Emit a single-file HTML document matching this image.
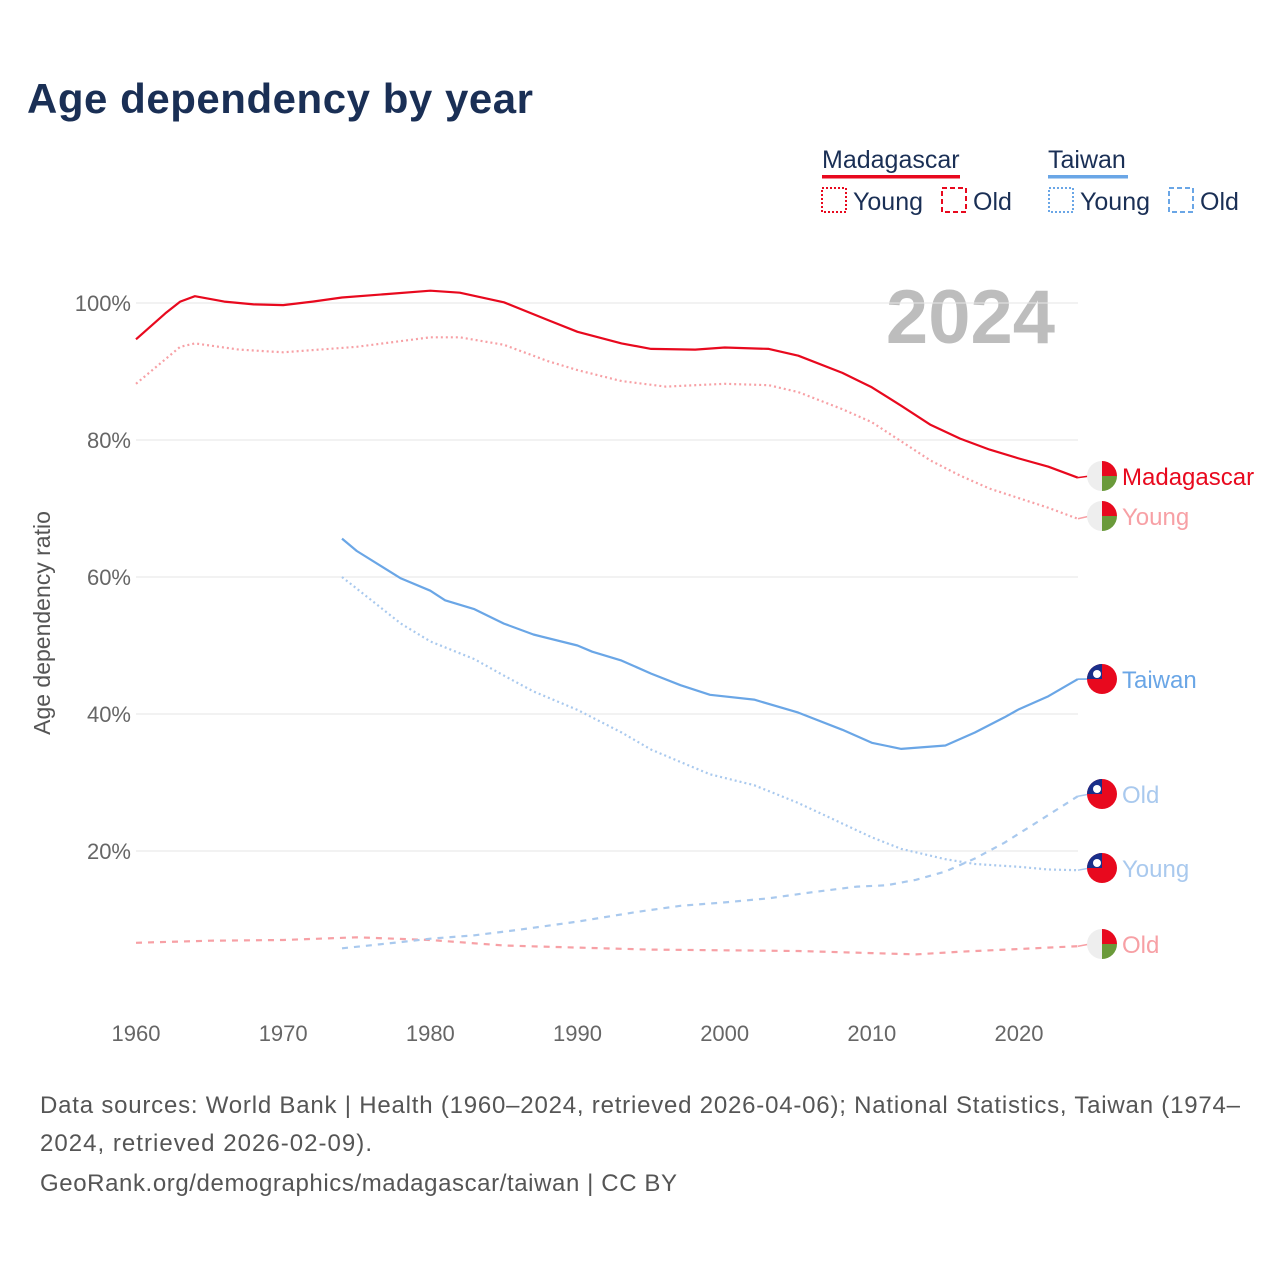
<!DOCTYPE html>
<html><head><meta charset="utf-8"><style>
body{margin:0;background:#fff;font-family:"Liberation Sans",sans-serif}
#wrap{position:relative;width:1280px;height:1280px;overflow:hidden}
</style></head><body>
<div id="wrap">
<svg id="svg" width="1280" height="1280" style="position:absolute;left:0;top:0">
<text x="27" y="113" font-size="42" font-weight="bold" fill="#1a2f55" textLength="506">Age dependency by year</text>
<g font-size="25" fill="#1a2f55">
<text x="822" y="168">Madagascar</text><rect x="822" y="175" width="138" height="3.5" fill="#e8091e"/>
<rect x="822" y="188" width="24" height="24" fill="none" stroke="#e8091e" stroke-width="2" stroke-dasharray="2,2"/><text x="853" y="210">Young</text>
<rect x="942" y="188" width="24" height="24" fill="none" stroke="#e8091e" stroke-width="2" stroke-dasharray="5,3"/><text x="973" y="210">Old</text>
<text x="1048" y="168">Taiwan</text><rect x="1048" y="175" width="80" height="3.5" fill="#6aa6e6"/>
<rect x="1049" y="188" width="24" height="24" fill="none" stroke="#6aa6e6" stroke-width="2" stroke-dasharray="2,2"/><text x="1080" y="210">Young</text>
<rect x="1169" y="188" width="24" height="24" fill="none" stroke="#6aa6e6" stroke-width="2" stroke-dasharray="5,3"/><text x="1200" y="210">Old</text>
</g>
<text x="1055" y="343" font-size="76" font-weight="bold" fill="#bdbdbd" text-anchor="end">2024</text>
<text transform="translate(50,623) rotate(-90)" font-size="23" fill="#555" text-anchor="middle">Age dependency ratio</text>
<g id="grid"></g><g id="lines"></g><g id="ends"></g>
<g font-size="24" fill="#555">
<text x="40" y="1113" textLength="1200">Data sources: World Bank | Health (1960–2024, retrieved 2026-04-06); National Statistics, Taiwan (1974–</text>
<text x="40" y="1151" textLength="332">2024, retrieved 2026-02-09).</text>
<text x="40" y="1191" textLength="637">GeoRank.org/demographics/madagascar/taiwan | CC BY</text>
</g>
</svg>
</div>
<script>
const yTicks=[20,40,60,80,100];
const xTicks=[1960,1970,1980,1990,2000,2010,2020];
const mgTotalYears=[1960,1962,1963,1964,1966,1968,1970,1972,1974,1977,1980,1982,1985,1988,1990,1993,1995,1998,2000,2003,2005,2008,2010,2012,2014,2016,2018,2020,2022,2024];
const mgTotal=[94.7,98.5,100.2,101,100.2,99.8,99.7,100.2,100.8,101.3,101.8,101.5,100.1,97.5,95.8,94.1,93.3,93.2,93.5,93.3,92.3,89.8,87.7,85,82.2,80.2,78.6,77.3,76.1,74.5];
const mgYoungYears=[1960,1963,1964,1967,1970,1975,1980,1982,1985,1988,1990,1993,1996,2000,2003,2005,2008,2010,2012,2014,2016,2018,2020,2022,2024];
const mgYoung=[88.2,93.6,94.1,93.2,92.8,93.6,95,95,93.9,91.5,90.2,88.6,87.8,88.2,88.0,87,84.5,82.6,79.8,77,74.8,72.9,71.5,70.1,68.5];
const mgOldYears=[1960,1965,1970,1975,1980,1985,1990,1995,2000,2005,2010,2013,2016,2020,2024];
const mgOld=[6.6,6.9,7.0,7.4,7.0,6.2,5.9,5.6,5.5,5.4,5.1,4.9,5.3,5.7,6.1];
const twTotalYears=[1974,1975,1978,1980,1981,1983,1985,1987,1990,1991,1993,1995,1997,1999,2002,2005,2008,2010,2012,2015,2017,2019,2020,2022,2024];
const twTotal=[65.6,63.8,59.8,58,56.6,55.3,53.2,51.6,50,49.1,47.8,45.9,44.2,42.8,42.1,40.2,37.7,35.8,34.9,35.4,37.3,39.5,40.7,42.6,45.1];
const twYoungYears=[1974,1976,1978,1980,1983,1985,1987,1990,1993,1995,1997,1999,2002,2005,2008,2010,2012,2015,2017,2020,2022,2024];
const twYoung=[60,56.6,53.2,50.6,48,45.6,43.3,40.6,37.3,34.8,33,31.2,29.6,27,24,22,20.3,18.8,18.1,17.7,17.3,17.2];
const twOldYears=[1974,1978,1980,1983,1986,1990,1994,1997,2000,2003,2006,2009,2011,2013,2015,2017,2019,2021,2024];
const twOld=[5.8,6.7,7.2,7.7,8.5,9.7,11.1,12,12.5,13.1,14,14.8,15,15.8,17,18.9,21.2,23.9,28.0];
const X=yr=>136+(yr-1960)*883/60;
const Y=v=>988-v*6.85;
const NS="http://www.w3.org/2000/svg";
function mk(parent,tag,attrs){const e=document.createElementNS(NS,tag);for(const k in attrs)e.setAttribute(k,attrs[k]);parent.appendChild(e);return e;}
const grid=document.getElementById('grid');
yTicks.forEach(t=>{
 const l=mk(grid,'line',{x1:136,x2:1078,y1:Y(t),y2:Y(t),stroke:'#e6e6e6','stroke-width':1});
 
 
 const tx=mk(grid,'text',{x:131,y:Y(t)+8,'font-size':22,fill:'#666','text-anchor':'end'});tx.textContent=t+'%';
 
 
});
xTicks.forEach(t=>{
 const tx=mk(grid,'text',{x:X(t),y:1041,'font-size':22,fill:'#666','text-anchor':'middle'});tx.textContent=t;
 
 
});
const lines=document.getElementById('lines');
const series=[
 ['madagascar-old-line',mgOldYears,mgOld,'#f7a0a5','6,6'],
 ['taiwan-old-line',twOldYears,twOld,'#a9c9ee','6,6'],
 ['madagascar-young-line',mgYoungYears,mgYoung,'#f7a0a5','2,3'],
 ['taiwan-young-line',twYoungYears,twYoung,'#a9c9ee','2,3'],
 ['madagascar-total-line',mgTotalYears,mgTotal,'#e8091e',''],
 ['taiwan-total-line',twTotalYears,twTotal,'#6aa6e6','']];
series.forEach(s=>{
 const d=s[1].map((yr,i)=>(i?'L':'M')+X(yr).toFixed(1)+','+Y(s[2][i]).toFixed(1)).join('');
 const p=mk(lines,'path',{d:d,fill:'none',stroke:s[3],'stroke-width':2.2,'stroke-dasharray':s[4],'stroke-linejoin':'round'});
 
 
});
const ends=document.getElementById('ends');
const labels=[['Madagascar',476,'#e8091e','mg',mgTotal],['Young',516,'#f7a0a5','mg',mgYoung],['Taiwan',679,'#6aa6e6','tw',twTotal],['Old',794,'#a9c9ee','tw',twOld],['Young',868,'#a9c9ee','tw',twYoung],['Old',944,'#f7a0a5','mg',mgOld]];
labels.forEach(l=>{
 const vy=Y(l[4][l[4].length-1]);
 mk(ends,'line',{x1:1078,x2:1090,y1:vy,y2:l[1],stroke:l[2],'stroke-width':1.5});
 const g=mk(ends,'g',{transform:'translate(1102,'+l[1]+')'});
 
 
 if(l[3]=='mg'){
  mk(g,'circle',{r:15,fill:'#eeeeee'});
  mk(g,'path',{d:'M0,-15A15,15 0 0 1 15,0L0,0Z',fill:'#e8091e'});
  mk(g,'path',{d:'M0,0L15,0A15,15 0 0 1 0,15Z',fill:'#6a9a3a'});
 }else{
  mk(g,'circle',{r:15,fill:'#e8091e'});
  mk(g,'path',{d:'M0,0L-15,0A15,15 0 0 1 0,-15Z',fill:'#1a2f8a'});
  mk(g,'circle',{cx:-5,cy:-5,r:4,fill:'#fff'});
 }
 const t=mk(ends,'text',{x:1122,y:l[1]+9,'font-size':24,fill:l[2]});t.textContent=l[0];
 
 
});
</script>
</body></html>
